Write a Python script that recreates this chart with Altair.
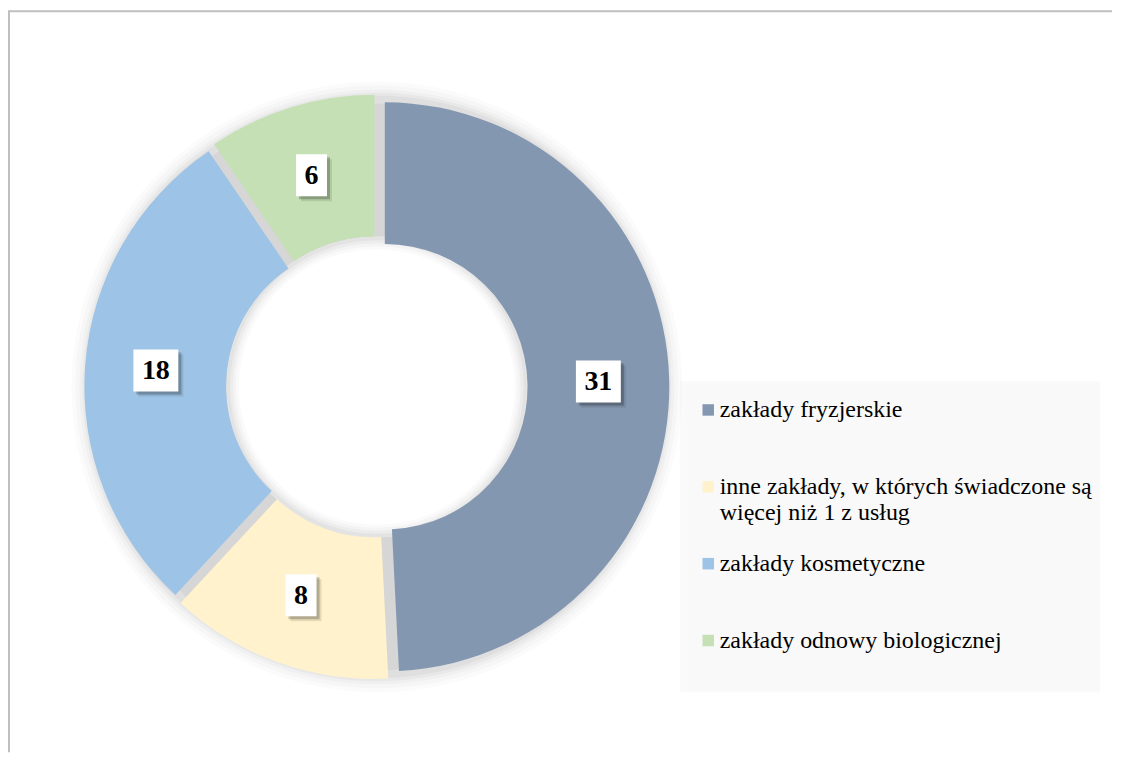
import altair as alt
import pandas as pd

categories = [
    "zakłady fryzjerskie",
    "inne zakłady, w których świadczone są więcej niż 1 z usług",
    "zakłady kosmetyczne",
    "zakłady odnowy biologicznej",
]
values = [31, 8, 18, 6]
legend_labels = [
    "zakłady fryzjerskie",
    "inne zakłady, w których świadczone są|więcej niż 1 z usług",
    "zakłady kosmetyczne",
    "zakłady odnowy biologicznej",
]
colors = ["#8497B0", "#FFF2CC", "#9DC3E6", "#C5E0B4"]

df = pd.DataFrame({
    "category": categories,
    "value": values,
    "order": list(range(len(categories))),
    "legend": legend_labels,
})

CX, CY = 368.5, 378      # ring centre (view coords)
R_OUT, R_IN = 285, 143
EXPLODE = 8
R_LAB = (R_OUT + R_IN) / 2
SERIF = "Liberation Serif"
TWO_PI = 6.283185307

color_scale = alt.Scale(domain=categories, range=colors)
base = alt.Chart(df)
one = base.transform_filter("datum.order == 0")

# soft glow / shadow outside the ring
glow_layers = []
for ro, op in [(306, 0.014), (302, 0.018), (298, 0.024), (295, 0.03), (292, 0.036)]:
    glow_layers.append(
        one.mark_arc(theta=0, theta2=TWO_PI, outerRadius=ro, innerRadius=R_IN + EXPLODE,
                     color="#000000", opacity=op)
        .encode(x=alt.value(CX), y=alt.value(CY))
    )
# soft shadow inside the hole
inner_glow = []
for ri, op in [(R_IN - 5, 0.02), (R_IN - 2, 0.025), (R_IN + 1, 0.03), (R_IN + 4, 0.035)]:
    inner_glow.append(
        one.mark_arc(theta=0, theta2=TWO_PI, outerRadius=R_IN + EXPLODE, innerRadius=ri,
                     color="#000000", opacity=op)
        .encode(x=alt.value(CX), y=alt.value(CY))
    )
ring_shadow = one.mark_arc(theta=0, theta2=TWO_PI, outerRadius=R_OUT - 1,
                           innerRadius=R_IN + EXPLODE, color="#D6D6D6").encode(
    x=alt.value(CX), y=alt.value(CY))

# slice geometry derived from the data (exploded slices)
geo = base.transform_window(
    cum="sum(value)", sort=[alt.SortField("order")]
).transform_joinaggregate(
    total="sum(value)"
).transform_calculate(
    t0=f"{TWO_PI}*(datum.cum - datum.value)/datum.total",
    t1=f"{TWO_PI}*datum.cum/datum.total",
    txt="toString(datum.value)",
).transform_calculate(
    mid="(datum.t0 + datum.t1)/2",
).transform_calculate(
    sx=f"{CX} + {EXPLODE}*sin(datum.mid)",
    sy=f"{CY} - {EXPLODE}*cos(datum.mid)",
).transform_calculate(
    lx=f"datum.sx + {R_LAB}*sin(datum.mid)",
    ly=f"datum.sy - {R_LAB}*cos(datum.mid)",
    w="14*length(datum.txt) + 17",
).transform_calculate(
    x1="datum.lx - datum.w/2",
    x2="datum.lx + datum.w/2",
    y1="datum.ly - 21",
    y2="datum.ly + 21",
)

slices = geo.mark_arc(outerRadius=R_OUT, innerRadius=R_IN).encode(
    theta=alt.Theta("t0:Q", scale=None),
    theta2="t1:Q",
    x=alt.X("sx:Q", scale=None, axis=None),
    y=alt.Y("sy:Q", scale=None, axis=None),
    color=alt.Color("category:N", scale=color_scale, legend=None),
)

def box(chart, **kw):
    return chart.mark_rect(**kw).encode(
        x=alt.X("x1:Q", scale=None, axis=None), x2="x2:Q",
        y=alt.Y("y1:Q", scale=None, axis=None), y2="y2:Q",
    )

box_shadow1 = box(geo, color="#000000", opacity=0.10, xOffset=5, yOffset=5, x2Offset=5, y2Offset=5)
box_shadow2 = box(geo, color="#000000", opacity=0.22, xOffset=3, yOffset=3, x2Offset=3, y2Offset=3)
boxes = box(geo, color="#FFFFFF")
texts = geo.mark_text(font=SERIF, fontSize=28, fontWeight="bold", color="#000000",
                      baseline="middle", align="center", dy=1).encode(
    x=alt.X("lx:Q", scale=None, axis=None),
    y=alt.Y("ly:Q", scale=None, axis=None),
    text="txt:N",
)

# legend box
legend_bg_shadow = one.mark_rect(color="#000000", opacity=0.02).encode(
    x=alt.value(672), x2=alt.value(1093), y=alt.value(372), y2=alt.value(684))
legend_bg = one.mark_rect(color="#F9F9F9").encode(
    x=alt.value(679), x2=alt.value(1093), y=alt.value(375), y2=alt.value(682))

leg_y = alt.Y("category:N", scale=alt.Scale(domain=categories, range=[401, 632], padding=0),
              axis=None, sort=categories)
legend_sym = base.mark_point(shape="square", filled=True, size=132, opacity=1).encode(
    x=alt.value(700.5),
    y=leg_y,
    color=alt.Color("category:N", scale=color_scale, legend=None),
)
legend_txt = base.transform_calculate(lines="split(datum.legend, '|')").mark_text(
    font=SERIF, fontSize=24, color="#000000", align="left", baseline="alphabetic",
    dy=7, lineHeight=26.5,
).encode(
    x=alt.value(712),
    y=leg_y,
    text="lines:N",
)

# outer frame (top & left edges visible)
frame_top = one.mark_rule(color="#BFBFBF", strokeWidth=2).encode(
    x=alt.value(0), x2=alt.value(1105), y=alt.value(1.5))
frame_left = one.mark_rule(color="#BFBFBF", strokeWidth=2).encode(
    x=alt.value(0), y=alt.value(0.5), y2=alt.value(744))

chart = alt.layer(
    *glow_layers, *inner_glow, ring_shadow, slices,
    box_shadow1, box_shadow2, boxes, texts,
    legend_bg_shadow, legend_bg, legend_sym, legend_txt,
    frame_top, frame_left,
).resolve_scale(
    x="independent", y="independent"
).properties(
    width=1105, height=744, padding=0, background="#FFFFFF"
).configure_view(stroke=None)

chart.save("out.html", embed_options={"renderer": "svg", "actions": False})
